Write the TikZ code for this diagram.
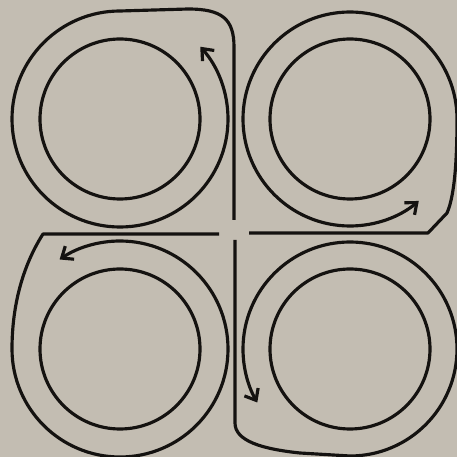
\documentclass[tikz,border=0pt]{standalone}
\usepackage{tikz}
\usetikzlibrary{arrows.meta}
\definecolor{paper}{RGB}{195,189,178}
\definecolor{ink}{RGB}{20,18,16}

\begin{document}
\begin{tikzpicture}[x=0.02cm, y=0.02cm, line width=1.8pt,
  loop/.style={draw=ink, line join=round, -{Straight Barb[length=5.5pt, width=9pt]}}]
\fill[paper] (0,0) rectangle (457,457);
\useasboundingbox (0,0) rectangle (457,457);
\coordinate (tl) at (120,338);
\coordinate (tr) at (350,338);
\coordinate (bl) at (120,108);
\coordinate (br) at (350,108);
\foreach \c in {tl,tr,bl,br} {
  \draw[ink] (\c) circle[radius=80];
}
\draw[loop] (234,237) -- (234,410) .. controls (234,438) and (222,448) .. (188,448)
  -- (120,446) arc[start angle=90, end angle=402, radius=108];
\draw[loop] (249,224) -- (428,224) -- (447,244) .. controls (455,262) and (457,300) .. (457,338)
  arc[start angle=0, end angle=310, radius=107];
\draw[loop] (219,223) -- (43,223) .. controls (22,190) and (12,150) .. (12,108)
  arc[start angle=180, end angle=484, radius=108];
\draw[loop] (235,217) -- (235,34) .. controls (235,16) and (262,8) .. (300,4)
  -- (350,1) arc[start angle=270, end angle=570, radius=107];
\end{tikzpicture}
\end{document}
